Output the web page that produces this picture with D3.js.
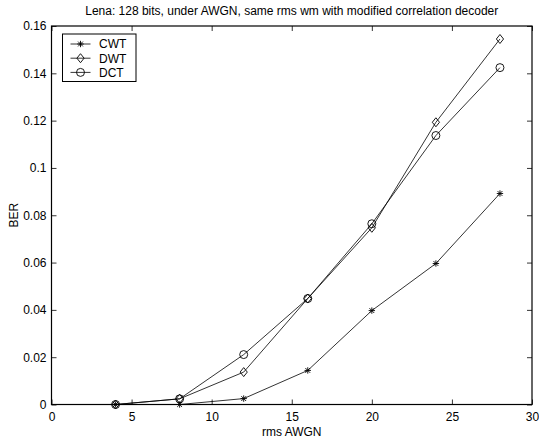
<!DOCTYPE html>
<html>
<head>
<meta charset="utf-8">
<script src="https://cdn.jsdelivr.net/npm/d3@7"></script>
<style>
  body { margin: 0; background: #fff; }
  svg text { font-family: "Liberation Sans", Arial, sans-serif; fill: #000; }
</style>
</head>
<body>
<div id="chart"></div>
<script>
const xValues = [4, 8, 12, 16, 20, 24, 28];
const cwt = [0, 0, 0.0025, 0.0144, 0.0397, 0.0596, 0.0892];
const dwt = [0, 0.0024, 0.0137, 0.0448, 0.0747, 0.1193, 0.1545];
const dct = [0, 0.0024, 0.0211, 0.0448, 0.0764, 0.1137, 0.1424];
const xTicks = [0, 5, 10, 15, 20, 25, 30];
const yTicks = [0, 0.02, 0.04, 0.06, 0.08, 0.1, 0.12, 0.14, 0.16];

const series = [
  { name: "CWT", values: cwt, marker: "star" },
  { name: "DWT", values: dwt, marker: "diamond" },
  { name: "DCT", values: dct, marker: "circle" }
];

const w = 539, h = 442;
const mLeft = 51.5, mRight = 532, mTop = 26, mBottom = 404.5;

const svg = d3.select("#chart").append("svg")
  .attr("width", w).attr("height", h);

const x = d3.scaleLinear().domain([0, 30]).range([mLeft, mRight]);
const y = d3.scaleLinear().domain([0, 0.16]).range([mBottom, mTop]);

// axes (MATLAB box style, ticks inward)
const fmtY = (d) => (d === 0 ? "0" : String(+d.toFixed(2)));
svg.append("g").attr("transform", `translate(0,${mBottom})`)
  .call(d3.axisBottom(x).tickValues(xTicks).tickSizeInner(-5).tickSizeOuter(0).tickPadding(8))
  .call((g) => g.select(".domain").remove())
  .selectAll("text").attr("font-size", 12);
svg.append("g").attr("transform", `translate(0,${mTop})`)
  .call(d3.axisTop(x).tickValues(xTicks).tickSizeInner(-5).tickSizeOuter(0).tickFormat(""))
  .call((g) => g.select(".domain").remove());
svg.append("g").attr("transform", `translate(${mLeft},0)`)
  .call(d3.axisLeft(y).tickValues(yTicks).tickSizeInner(-5).tickSizeOuter(0).tickPadding(5).tickFormat(fmtY))
  .call((g) => g.select(".domain").remove())
  .selectAll("text").attr("font-size", 12);
svg.append("g").attr("transform", `translate(${mRight},0)`)
  .call(d3.axisRight(y).tickValues(yTicks).tickSizeInner(-5).tickSizeOuter(0).tickFormat(""))
  .call((g) => g.select(".domain").remove());
svg.selectAll(".tick line").attr("stroke", "#000").attr("stroke-width", 0.8);

svg.append("rect")
  .attr("x", mLeft).attr("y", mTop)
  .attr("width", mRight - mLeft).attr("height", mBottom - mTop)
  .attr("fill", "none").attr("stroke", "#000").attr("stroke-width", 1.2);

// markers
function drawMarker(g, type, cx, cy) {
  if (type === "circle") {
    g.append("circle").attr("cx", cx).attr("cy", cy).attr("r", 4)
      .attr("fill", "none").attr("stroke", "#000").attr("stroke-width", 0.9);
  } else if (type === "diamond") {
    const s = 4.5;
    g.append("path")
      .attr("d", `M${cx},${cy - s}L${cx + s * 0.8},${cy}L${cx},${cy + s}L${cx - s * 0.8},${cy}Z`)
      .attr("fill", "none").attr("stroke", "#000").attr("stroke-width", 0.9);
  } else {
    const s = 3.2;
    const d = s * 0.75;
    g.append("path")
      .attr("d", `M${cx - s},${cy}L${cx + s},${cy}M${cx},${cy - s}L${cx},${cy + s}` +
        `M${cx - d},${cy - d}L${cx + d},${cy + d}M${cx - d},${cy + d}L${cx + d},${cy - d}`)
      .attr("stroke", "#000").attr("stroke-width", 0.9);
  }
}

const line = d3.line().x((d, i) => x(xValues[i])).y((d) => y(d));

series.forEach((s) => {
  svg.append("path").datum(s.values)
    .attr("d", line)
    .attr("fill", "none").attr("stroke", "#000").attr("stroke-width", 0.8);
  const g = svg.append("g");
  s.values.forEach((v, i) => drawMarker(g, s.marker, x(xValues[i]), y(v)));
});

// legend
const lg = svg.append("g");
lg.append("rect").attr("x", 62.5).attr("y", 34).attr("width", 73.5).attr("height", 47.5)
  .attr("fill", "#fff").attr("stroke", "#000").attr("stroke-width", 1);
series.forEach((s, i) => {
  const ly = 44 + i * 14.2;
  lg.append("line").attr("x1", 70.5).attr("x2", 90.5).attr("y1", ly).attr("y2", ly)
    .attr("stroke", "#000").attr("stroke-width", 0.8);
  drawMarker(lg, s.marker, 80.5, ly);
  lg.append("text").attr("x", 99).attr("y", ly + 4.3).attr("font-size", 12).text(s.name);
});

// titles
svg.append("text").attr("x", (mLeft + mRight) / 2).attr("y", 15)
  .attr("text-anchor", "middle").attr("font-size", 12)
  .text("Lena: 128 bits, under AWGN, same rms wm with modified correlation decoder");
svg.append("text").attr("x", (mLeft + mRight) / 2).attr("y", 436)
  .attr("text-anchor", "middle").attr("font-size", 12).text("rms AWGN");
svg.append("text").attr("transform", `translate(18,${(mTop + mBottom) / 2}) rotate(-90)`)
  .attr("text-anchor", "middle").attr("font-size", 12).text("BER");
</script>
</body>
</html>
